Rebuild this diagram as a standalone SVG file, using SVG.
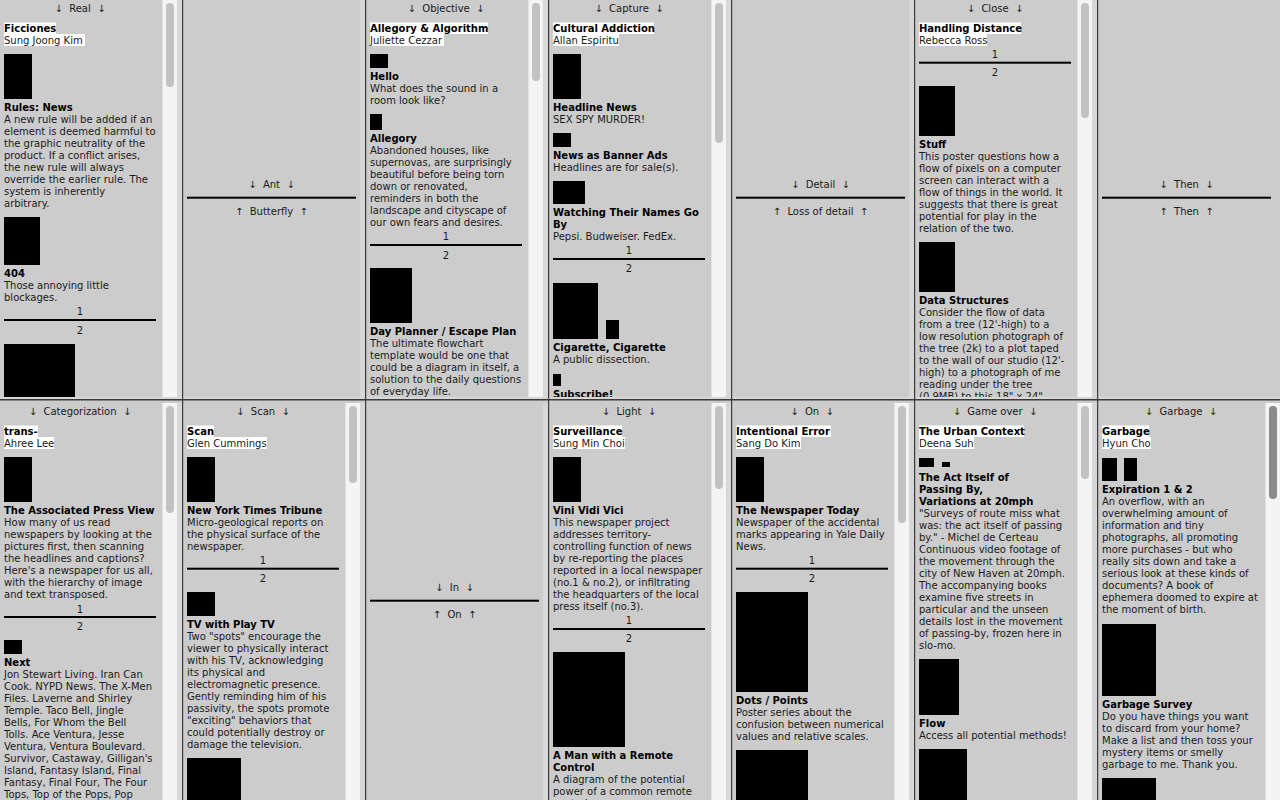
<svg xmlns="http://www.w3.org/2000/svg" width="1280" height="800" viewBox="0 0 1280 800">
<style>
text{font-family:"DejaVu Sans",Verdana,sans-serif;font-size:10px;fill:#1a1a1a}
.b{font-weight:bold;fill:#000}
.c{text-anchor:middle}
.hl{fill:#fff}
.img{fill:#000}
.rule{fill:#000}
.track{fill:#f4f4f4}
.tl{fill:#e2e2e2}
.thumb{fill:#c2c2c2}
.thumb2{fill:#8a8a8a}
.strip{fill:#d7d7d7}
.frame{fill:#3a3a3a}
</style>
<defs>
<clipPath id="clipCell"><rect x="0" y="0" width="182" height="397"/></clipPath>
</defs>
<rect x="0" y="0" width="1280" height="800" fill="#cccccc"/>

<!-- TOP ROW -->
<g id="cell-real" transform="translate(0,0)"><g clip-path="url(#clipCell)">
<rect class="strip" x="177" y="0" width="5" height="397"/>
<rect class="track" x="162" y="0" width="15" height="397"/><rect class="tl" x="162" y="0" width="1" height="397"/>
<rect class="thumb" x="166" y="3" width="8" height="84" rx="4"/>
<text class="c" x="80" y="12">↓&#160;&#160;Real&#160;&#160;↓</text>
<rect class="hl" x="4" y="22.5" width="52" height="11.5"/><rect class="hl" x="4" y="34" width="81" height="12"/>
<text class="b" x="4" y="32.3">Ficciones</text><text x="4" y="44.3">Sung Joong Kim</text>
<rect class="img" x="4" y="54" width="28" height="45"/>
<text class="b" x="4" y="110.7">Rules: News</text>
<text x="4" y="122.7"><tspan x="4">A new rule will be added if an</tspan><tspan x="4" dy="12">element is deemed harmful to</tspan><tspan x="4" dy="12">the graphic neutrality of the</tspan><tspan x="4" dy="12">product. If a conflict arises,</tspan><tspan x="4" dy="12">the new rule will always</tspan><tspan x="4" dy="12">override the earlier rule. The</tspan><tspan x="4" dy="12">system is inherently</tspan><tspan x="4" dy="12">arbitrary.</tspan></text>
<rect class="img" x="4" y="217" width="36" height="48"/>
<text class="b" x="4" y="276.7">404</text>
<text x="4" y="288.7"><tspan x="4">Those annoying little</tspan><tspan x="4" dy="12">blockages.</tspan></text>
<text class="c" x="80" y="315.3">1</text><rect class="rule" x="4" y="319" width="152" height="2"/><text class="c" x="80" y="333.6">2</text>
<rect class="img" x="4" y="344" width="71" height="60"/>
</g></g>

<g id="cell-ant" transform="translate(183,0)"><g clip-path="url(#clipCell)">
<rect class="strip" x="177" y="0" width="5" height="397"/>
<text class="c" x="88.5" y="188.3">↓&#160;&#160;Ant&#160;&#160;↓</text>
<rect class="rule" x="4" y="196.7" width="169" height="2"/>
<text class="c" x="88.5" y="215">↑&#160;&#160;Butterfly&#160;&#160;↑</text>
</g></g>

<g id="cell-objective" transform="translate(366,0)"><g clip-path="url(#clipCell)">
<rect class="strip" x="177" y="0" width="5" height="397"/>
<rect class="track" x="162" y="0" width="15" height="397"/><rect class="tl" x="162" y="0" width="1" height="397"/>
<rect class="thumb" x="166" y="3" width="8" height="78" rx="4"/>
<text class="c" x="80" y="12">↓&#160;&#160;Objective&#160;&#160;↓</text>
<rect class="hl" x="4" y="22.5" width="118" height="11.5"/><rect class="hl" x="4" y="34" width="74" height="12"/>
<text class="b" x="4" y="32.3">Allegory &amp; Algorithm</text><text x="4" y="44.3">Juliette Cezzar</text>
<rect class="img" x="4" y="54" width="18" height="14"/>
<text class="b" x="4" y="80">Hello</text>
<text x="4" y="92"><tspan x="4">What does the sound in a</tspan><tspan x="4" dy="12">room look like?</tspan></text>
<rect class="img" x="4" y="114" width="12" height="16"/>
<text class="b" x="4" y="141.7">Allegory</text>
<text x="4" y="153.7"><tspan x="4">Abandoned houses, like</tspan><tspan x="4" dy="12">supernovas, are surprisingly</tspan><tspan x="4" dy="12">beautiful before being torn</tspan><tspan x="4" dy="12">down or renovated,</tspan><tspan x="4" dy="12">reminders in both the</tspan><tspan x="4" dy="12">landscape and cityscape of</tspan><tspan x="4" dy="12">our own fears and desires.</tspan></text>
<text class="c" x="80" y="240">1</text><rect class="rule" x="4" y="244" width="152" height="2"/><text class="c" x="80" y="258.5">2</text>
<rect class="img" x="4" y="268" width="42" height="55"/>
<text class="b" x="4" y="335">Day Planner / Escape Plan</text>
<text x="4" y="347"><tspan x="4">The ultimate flowchart</tspan><tspan x="4" dy="12">template would be one that</tspan><tspan x="4" dy="12">could be a diagram in itself, a</tspan><tspan x="4" dy="12">solution to the daily questions</tspan><tspan x="4" dy="12">of everyday life.</tspan></text>
</g></g>

<g id="cell-capture" transform="translate(549,0)"><g clip-path="url(#clipCell)">
<rect class="strip" x="177" y="0" width="5" height="397"/>
<rect class="track" x="162" y="0" width="15" height="397"/><rect class="tl" x="162" y="0" width="1" height="397"/>
<rect class="thumb" x="166" y="3" width="8" height="140" rx="4"/>
<text class="c" x="80" y="12">↓&#160;&#160;Capture&#160;&#160;↓</text>
<rect class="hl" x="4" y="22.5" width="101" height="11.5"/><rect class="hl" x="4" y="34" width="66" height="12"/>
<text class="b" x="4" y="32.3">Cultural Addiction</text><text x="4" y="44.3">Allan Espiritu</text>
<rect class="img" x="4" y="54" width="28" height="45"/>
<text class="b" x="4" y="110.7">Headline News</text>
<text x="4" y="122.7">SEX SPY MURDER!</text>
<rect class="img" x="4" y="133" width="18" height="14"/>
<text class="b" x="4" y="158.7">News as Banner Ads</text>
<text x="4" y="170.7">Headlines are for sale(s).</text>
<rect class="img" x="4" y="181" width="32" height="23"/>
<text class="b" x="4" y="215.7"><tspan x="4">Watching Their Names Go</tspan><tspan x="4" dy="12">By</tspan></text>
<text x="4" y="239.7">Pepsi. Budweiser. FedEx.</text>
<text class="c" x="80" y="254">1</text><rect class="rule" x="4" y="258" width="152" height="2"/><text class="c" x="80" y="272.3">2</text>
<rect class="img" x="4" y="283" width="45" height="56"/>
<rect class="img" x="57" y="320" width="13" height="19"/>
<text class="b" x="4" y="350.7">Cigarette, Cigarette</text>
<text x="4" y="362.7">A public dissection.</text>
<rect class="img" x="4" y="374" width="8" height="12"/>
<text class="b" x="4" y="397.7">Subscribe!</text>
</g></g>

<g id="cell-detail" transform="translate(732,0)"><g clip-path="url(#clipCell)">
<rect class="strip" x="177" y="0" width="5" height="397"/>
<text class="c" x="88.5" y="188.3">↓&#160;&#160;Detail&#160;&#160;↓</text>
<rect class="rule" x="4" y="196.7" width="169" height="2"/>
<text class="c" x="88.5" y="215">↑&#160;&#160;Loss of detail&#160;&#160;↑</text>
</g></g>

<g id="cell-close" transform="translate(915,0)"><g clip-path="url(#clipCell)">
<rect class="strip" x="177" y="0" width="5" height="397"/>
<rect class="track" x="162" y="0" width="15" height="397"/><rect class="tl" x="162" y="0" width="1" height="397"/>
<rect class="thumb" x="166" y="3" width="8" height="115" rx="4"/>
<text class="c" x="80" y="12">↓&#160;&#160;Close&#160;&#160;↓</text>
<rect class="hl" x="4" y="22.5" width="102" height="11.5"/><rect class="hl" x="4" y="34" width="68" height="12"/>
<text class="b" x="4" y="32.3">Handling Distance</text><text x="4" y="44.3">Rebecca Ross</text>
<text class="c" x="80" y="58">1</text><rect class="rule" x="4" y="61.7" width="152" height="2"/><text class="c" x="80" y="76">2</text>
<rect class="img" x="4" y="86" width="36" height="50"/>
<text class="b" x="4" y="148">Stuff</text>
<text x="4" y="160"><tspan x="4">This poster questions how a</tspan><tspan x="4" dy="12">flow of pixels on a computer</tspan><tspan x="4" dy="12">screen can interact with a</tspan><tspan x="4" dy="12">flow of things in the world. It</tspan><tspan x="4" dy="12">suggests that there is great</tspan><tspan x="4" dy="12">potential for play in the</tspan><tspan x="4" dy="12">relation of the two.</tspan></text>
<rect class="img" x="4" y="242" width="36" height="50"/>
<text class="b" x="4" y="303.7">Data Structures</text>
<text x="4" y="315.7"><tspan x="4">Consider the flow of data</tspan><tspan x="4" dy="12">from a tree (12'-high) to a</tspan><tspan x="4" dy="12">low resolution photograph of</tspan><tspan x="4" dy="12">the tree (2k) to a plot taped</tspan><tspan x="4" dy="12">to the wall of our studio (12'-</tspan><tspan x="4" dy="12">high) to a photograph of me</tspan><tspan x="4" dy="12">reading under the tree</tspan><tspan x="4" dy="12">(0.9MB) to this 18" x 24"</tspan></text>
</g></g>

<g id="cell-then" transform="translate(1098,0)"><g clip-path="url(#clipCell)">
<text class="c" x="88.5" y="188.3">↓&#160;&#160;Then&#160;&#160;↓</text>
<rect class="rule" x="4" y="196.7" width="169" height="2"/>
<text class="c" x="88.5" y="215">↑&#160;&#160;Then&#160;&#160;↑</text>
</g></g>

<!-- BOTTOM ROW -->
<g id="cell-categorization" transform="translate(0,403)"><g clip-path="url(#clipCell)">
<rect class="strip" x="177" y="0" width="5" height="397"/>
<rect class="track" x="162" y="0" width="15" height="397"/><rect class="tl" x="162" y="0" width="1" height="397"/>
<rect class="thumb" x="166" y="3" width="8" height="107" rx="4"/>
<text class="c" x="80" y="12">↓&#160;&#160;Categorization&#160;&#160;↓</text>
<rect class="hl" x="4" y="22.5" width="34" height="11.5"/><rect class="hl" x="4" y="34" width="50" height="12"/>
<text class="b" x="4" y="32.3">trans-</text><text x="4" y="44.3">Ahree Lee</text>
<rect class="img" x="4" y="54" width="28" height="45"/>
<text class="b" x="4" y="110.7">The Associated Press View</text>
<text x="4" y="122.7"><tspan x="4">How many of us read</tspan><tspan x="4" dy="12">newspapers by looking at the</tspan><tspan x="4" dy="12">pictures first, then scanning</tspan><tspan x="4" dy="12">the headlines and captions?</tspan><tspan x="4" dy="12">Here's a newspaper for us all,</tspan><tspan x="4" dy="12">with the hierarchy of image</tspan><tspan x="4" dy="12">and text transposed.</tspan></text>
<text class="c" x="80" y="209.6">1</text><rect class="rule" x="4" y="213" width="152" height="2"/><text class="c" x="80" y="227.3">2</text>
<rect class="img" x="4" y="237" width="18" height="14"/>
<text class="b" x="4" y="262.7">Next</text>
<text x="4" y="274.7"><tspan x="4">Jon Stewart Living. Iran Can</tspan><tspan x="4" dy="12">Cook. NYPD News. The X-Men</tspan><tspan x="4" dy="12">Files. Laverne and Shirley</tspan><tspan x="4" dy="12">Temple. Taco Bell, Jingle</tspan><tspan x="4" dy="12">Bells, For Whom the Bell</tspan><tspan x="4" dy="12">Tolls. Ace Ventura, Jesse</tspan><tspan x="4" dy="12">Ventura, Ventura Boulevard.</tspan><tspan x="4" dy="12">Survivor, Castaway, Gilligan's</tspan><tspan x="4" dy="12">Island, Fantasy Island, Final</tspan><tspan x="4" dy="12">Fantasy, Final Four, The Four</tspan><tspan x="4" dy="12">Tops, Top of the Pops, Pop</tspan></text>
</g></g>

<g id="cell-scan" transform="translate(183,403)"><g clip-path="url(#clipCell)">
<rect class="strip" x="177" y="0" width="5" height="397"/>
<rect class="track" x="162" y="0" width="15" height="397"/><rect class="tl" x="162" y="0" width="1" height="397"/>
<rect class="thumb" x="166" y="3" width="8" height="77" rx="4"/>
<text class="c" x="80" y="12">↓&#160;&#160;Scan&#160;&#160;↓</text>
<rect class="hl" x="4" y="22.5" width="27" height="11.5"/><rect class="hl" x="4" y="34" width="80" height="12"/>
<text class="b" x="4" y="32.3">Scan</text><text x="4" y="44.3">Glen Cummings</text>
<rect class="img" x="4" y="54" width="28" height="45"/>
<text class="b" x="4" y="110.7">New York Times Tribune</text>
<text x="4" y="122.7"><tspan x="4">Micro-geological reports on</tspan><tspan x="4" dy="12">the physical surface of the</tspan><tspan x="4" dy="12">newspaper.</tspan></text>
<text class="c" x="80" y="161">1</text><rect class="rule" x="4" y="164.7" width="152" height="2"/><text class="c" x="80" y="179">2</text>
<rect class="img" x="4" y="189" width="28" height="24"/>
<text class="b" x="4" y="224.7">TV with Play TV</text>
<text x="4" y="236.7"><tspan x="4">Two "spots" encourage the</tspan><tspan x="4" dy="12">viewer to physically interact</tspan><tspan x="4" dy="12">with his TV, acknowledging</tspan><tspan x="4" dy="12">its physical and</tspan><tspan x="4" dy="12">electromagnetic presence.</tspan><tspan x="4" dy="12">Gently reminding him of his</tspan><tspan x="4" dy="12">passivity, the spots promote</tspan><tspan x="4" dy="12">"exciting" behaviors that</tspan><tspan x="4" dy="12">could potentially destroy or</tspan><tspan x="4" dy="12">damage the television.</tspan></text>
<rect class="img" x="4" y="355" width="54" height="50"/>
</g></g>

<g id="cell-in" transform="translate(366,403)"><g clip-path="url(#clipCell)">
<rect class="strip" x="177" y="0" width="5" height="397"/>
<text class="c" x="88.5" y="188.3">↓&#160;&#160;In&#160;&#160;↓</text>
<rect class="rule" x="4" y="196.7" width="169" height="2"/>
<text class="c" x="88.5" y="215">↑&#160;&#160;On&#160;&#160;↑</text>
</g></g>

<g id="cell-light" transform="translate(549,403)"><g clip-path="url(#clipCell)">
<rect class="strip" x="177" y="0" width="5" height="397"/>
<rect class="track" x="162" y="0" width="15" height="397"/><rect class="tl" x="162" y="0" width="1" height="397"/>
<rect class="thumb" x="166" y="3" width="8" height="83" rx="4"/>
<text class="c" x="80" y="12">↓&#160;&#160;Light&#160;&#160;↓</text>
<rect class="hl" x="4" y="22.5" width="69" height="11.5"/><rect class="hl" x="4" y="34" width="72" height="12"/>
<text class="b" x="4" y="32.3">Surveillance</text><text x="4" y="44.3">Sung Min Choi</text>
<rect class="img" x="4" y="54" width="28" height="45"/>
<text class="b" x="4" y="110.7">Vini Vidi Vici</text>
<text x="4" y="122.7"><tspan x="4">This newspaper project</tspan><tspan x="4" dy="12">addresses territory-</tspan><tspan x="4" dy="12">controlling function of news</tspan><tspan x="4" dy="12">by re-reporting the places</tspan><tspan x="4" dy="12">reported in a local newspaper</tspan><tspan x="4" dy="12">(no.1 &amp; no.2), or infiltrating</tspan><tspan x="4" dy="12">the headquarters of the local</tspan><tspan x="4" dy="12">press itself (no.3).</tspan></text>
<text class="c" x="80" y="221.3">1</text><rect class="rule" x="4" y="225" width="152" height="2"/><text class="c" x="80" y="239.3">2</text>
<rect class="img" x="4" y="249" width="72" height="95"/>
<text class="b" x="4" y="355.7"><tspan x="4">A Man with a Remote</tspan><tspan x="4" dy="12">Control</tspan></text>
<text x="4" y="379.7"><tspan x="4">A diagram of the potential</tspan><tspan x="4" dy="12">power of a common remote</tspan><tspan x="4" dy="12">control.</tspan></text>
</g></g>

<g id="cell-on" transform="translate(732,403)"><g clip-path="url(#clipCell)">
<rect class="strip" x="177" y="0" width="5" height="397"/>
<rect class="track" x="162" y="0" width="15" height="397"/><rect class="tl" x="162" y="0" width="1" height="397"/>
<rect class="thumb" x="166" y="3" width="8" height="117" rx="4"/>
<text class="c" x="80" y="12">↓&#160;&#160;On&#160;&#160;↓</text>
<rect class="hl" x="4" y="22.5" width="95" height="11.5"/><rect class="hl" x="4" y="34" width="65" height="12"/>
<text class="b" x="4" y="32.3">Intentional Error</text><text x="4" y="44.3">Sang Do Kim</text>
<rect class="img" x="4" y="54" width="28" height="45"/>
<text class="b" x="4" y="110.7">The Newspaper Today</text>
<text x="4" y="122.7"><tspan x="4">Newspaper of the accidental</tspan><tspan x="4" dy="12">marks appearing in Yale Daily</tspan><tspan x="4" dy="12">News.</tspan></text>
<text class="c" x="80" y="161">1</text><rect class="rule" x="4" y="164.7" width="152" height="2"/><text class="c" x="80" y="179">2</text>
<rect class="img" x="4" y="189" width="72" height="100"/>
<text class="b" x="4" y="300.7">Dots / Points</text>
<text x="4" y="312.7"><tspan x="4">Poster series about the</tspan><tspan x="4" dy="12">confusion between numerical</tspan><tspan x="4" dy="12">values and relative scales.</tspan></text>
<rect class="img" x="4" y="347" width="72" height="60"/>
</g></g>

<g id="cell-gameover" transform="translate(915,403)"><g clip-path="url(#clipCell)">
<rect class="strip" x="177" y="0" width="5" height="397"/>
<rect class="track" x="162" y="0" width="15" height="397"/><rect class="tl" x="162" y="0" width="1" height="397"/>
<rect class="thumb" x="166" y="3" width="8" height="73" rx="4"/>
<text class="c" x="80" y="12">↓&#160;&#160;Game over&#160;&#160;↓</text>
<rect class="hl" x="4" y="22.5" width="105" height="11.5"/><rect class="hl" x="4" y="34" width="55" height="12"/>
<text class="b" x="4" y="32.3">The Urban Context</text><text x="4" y="44.3">Deena Suh</text>
<rect class="img" x="4" y="55" width="15" height="9"/>
<rect class="img" x="27" y="59" width="8" height="5"/>
<text class="b" x="4" y="78"><tspan x="4">The Act Itself of</tspan><tspan x="4" dy="12">Passing By,</tspan><tspan x="4" dy="12">Variations at 20mph</tspan></text>
<text x="4" y="114"><tspan x="4">"Surveys of route miss what</tspan><tspan x="4" dy="12">was: the act itself of passing</tspan><tspan x="4" dy="12">by." - Michel de Certeau</tspan><tspan x="4" dy="12">Continuous video footage of</tspan><tspan x="4" dy="12">the movement through the</tspan><tspan x="4" dy="12">city of New Haven at 20mph.</tspan><tspan x="4" dy="12">The accompanying books</tspan><tspan x="4" dy="12">examine five streets in</tspan><tspan x="4" dy="12">particular and the unseen</tspan><tspan x="4" dy="12">details lost in the movement</tspan><tspan x="4" dy="12">of passing-by, frozen here in</tspan><tspan x="4" dy="12">slo-mo.</tspan></text>
<rect class="img" x="4" y="256" width="40" height="56"/>
<text class="b" x="4" y="323.7">Flow</text>
<text x="4" y="336">Access all potential methods!</text>
<rect class="img" x="4" y="346" width="48" height="60"/>
</g></g>

<g id="cell-garbage" transform="translate(1098,403)"><g clip-path="url(#clipCell)">
<rect class="track" x="167" y="0" width="15" height="397"/><rect class="tl" x="167" y="0" width="1" height="397"/>
<rect class="thumb2" x="171" y="3" width="8" height="93" rx="4"/>
<text class="c" x="83" y="12">↓&#160;&#160;Garbage&#160;&#160;↓</text>
<rect class="hl" x="4" y="22.5" width="47" height="11.5"/><rect class="hl" x="4" y="34" width="49" height="12"/>
<text class="b" x="4" y="32.3">Garbage</text><text x="4" y="44.3">Hyun Cho</text>
<rect class="img" x="4" y="55" width="15" height="23"/>
<rect class="img" x="26" y="55" width="13" height="23"/>
<text class="b" x="4" y="90">Expiration 1 &amp; 2</text>
<text x="4" y="102"><tspan x="4">An overflow, with an</tspan><tspan x="4" dy="12">overwhelming amount of</tspan><tspan x="4" dy="12">information and tiny</tspan><tspan x="4" dy="12">photographs, all promoting</tspan><tspan x="4" dy="12">more purchases - but who</tspan><tspan x="4" dy="12">really sits down and take a</tspan><tspan x="4" dy="12">serious look at these kinds of</tspan><tspan x="4" dy="12">documents? A book of</tspan><tspan x="4" dy="12">ephemera doomed to expire at</tspan><tspan x="4" dy="12">the moment of birth.</tspan></text>
<rect class="img" x="4" y="221" width="54" height="72"/>
<text class="b" x="4" y="304.7">Garbage Survey</text>
<text x="4" y="317"><tspan x="4">Do you have things you want</tspan><tspan x="4" dy="12">to discard from your home?</tspan><tspan x="4" dy="12">Make a list and then toss your</tspan><tspan x="4" dy="12">mystery items or smelly</tspan><tspan x="4" dy="12">garbage to me. Thank you.</tspan></text>
<rect class="img" x="4" y="375" width="54" height="30"/>
</g></g>

<!-- frame borders (no connectors in this picture) -->
<g id="frame">
<rect class="strip" x="0" y="397" width="1280" height="2"/>
<rect class="frame" x="0" y="399" width="1280" height="1.5"/>
<rect class="frame" x="182" y="0" width="1.2" height="800"/>
<rect class="frame" x="365" y="0" width="1.2" height="800"/>
<rect class="frame" x="548" y="0" width="1.2" height="800"/>
<rect class="frame" x="731" y="0" width="1.2" height="800"/>
<rect class="frame" x="914" y="0" width="1.2" height="800"/>
<rect class="frame" x="1097" y="0" width="1.2" height="800"/>
</g>
</svg>
